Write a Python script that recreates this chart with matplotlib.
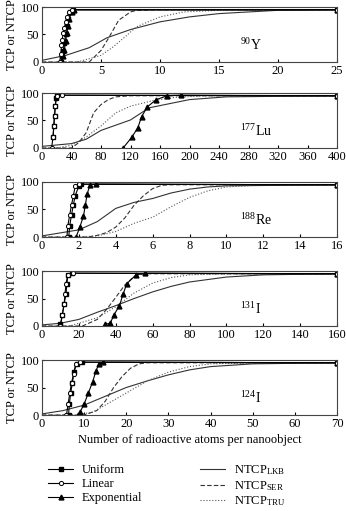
import numpy as np
import matplotlib
matplotlib.use("Agg")
import matplotlib.pyplot as plt
from matplotlib.lines import Line2D

plt.rcParams['font.family'] = ['Liberation Serif', 'DejaVu Serif']
plt.rcParams['mathtext.fontset'] = 'custom'
plt.rcParams['mathtext.rm'] = 'Liberation Serif'
plt.rcParams['mathtext.it'] = 'Liberation Serif:italic'

# ---- data ----
isotopes = [r'$^{90}\mathrm{Y}$', r'$^{177}\mathrm{Lu}$', r'$^{188}\mathrm{Re}$',
            r'$^{131}\mathrm{I}$', r'$^{124}\mathrm{I}$']
xmax = [25, 400, 16, 160, 70]
xticks = [[0, 5, 10, 15, 20, 25],
          [0, 40, 80, 120, 160, 200, 240, 280, 320, 360, 400],
          [0, 2, 4, 6, 8, 10, 12, 14, 16],
          [0, 20, 40, 60, 80, 100, 120, 140, 160],
          [0, 10, 20, 30, 40, 50, 60, 70]]

# TCP, uniform activity
uni_x = [[1.6, 1.7, 1.8, 1.9, 2.0, 2.1, 2.2, 2.4, 2.6, 25],
         [15, 16, 17, 18, 19, 20, 400],
         [1.45, 1.5, 1.6, 1.7, 1.8, 2.0, 2.1, 16],
         [10, 11, 12, 13, 13.5, 14, 16, 160],
         [6.3, 6.5, 6.8, 7.2, 7.6, 8.2, 9.5, 70]]
uni_y = [[0, 10, 20, 35, 50, 65, 78, 90, 95, 95],
         [20, 40, 58, 77, 90, 96, 95],
         [0, 20, 40, 58, 75, 93, 96, 95],
         [3, 20, 40, 58, 77, 93, 96, 95],
         [0, 20, 40, 58, 78, 93, 96, 95]]

# TCP, linear activity
lin_x = [[1.5, 1.6, 1.65, 1.7, 1.8, 1.9, 2.0, 2.1, 2.3, 2.5, 25],
         [13, 15, 16, 17, 18, 20, 27, 400],
         [1.35, 1.4, 1.5, 1.6, 1.7, 1.8, 2.0, 16],
         [10, 11, 12, 12.5, 13, 14, 17, 160],
         [5.8, 6.2, 6.6, 7.0, 7.5, 8.0, 9.0, 70]]
lin_y = [[0, 15, 30, 40, 52, 62, 72, 82, 90, 95, 95],
         [0, 20, 40, 58, 77, 95, 96, 95],
         [0, 20, 40, 58, 75, 92, 96, 95],
         [0, 20, 40, 58, 77, 92, 96, 95],
         [0, 20, 40, 58, 75, 93, 96, 95]]

# TCP, exponential activity
exp_x = [[1.7, 1.8, 1.9, 2.0, 2.1, 2.2, 2.3, 2.5, 2.7, 25],
         [110, 122, 130, 135, 143, 155, 170, 188, 400],
         [1.85, 2.05, 2.25, 2.35, 2.45, 2.6, 2.95, 16],
         [34, 37, 39, 42, 44, 46, 51, 56, 160],
         [8.5, 9.0, 10, 11, 12, 12.8, 13.5, 14.5, 70]]
exp_y = [[0, 10, 22, 38, 52, 65, 78, 90, 95, 95],
         [0, 20, 37, 57, 75, 88, 95, 96, 95],
         [0, 18, 38, 58, 78, 95, 96, 95],
         [3, 5, 20, 37, 58, 77, 93, 96, 95],
         [0, 5, 20, 40, 60, 80, 93, 96, 95]]

# NTCP models
lkb_x = [[0, 2, 4, 5.5, 7.5, 10, 12.5, 15, 20, 25],
         [0, 40, 60, 80, 120, 145, 200, 250, 400],
         [0, 2, 3, 4, 5, 6, 7, 8, 9, 10, 16],
         [0, 10, 20, 30, 40, 50, 60, 70, 80, 100, 120, 160],
         [0, 5, 10, 15, 20, 25, 30, 35, 40, 50, 70]]
lkb_y = [[3, 12, 26, 44, 59, 73, 82, 88, 94, 95],
         [3, 8, 16, 32, 51, 73, 88, 93, 95],
         [2, 13, 28, 52, 63, 70, 80, 87, 91, 93, 95],
         [2, 5, 12, 25, 37, 50, 62, 72, 80, 89, 93, 95],
         [2, 8, 18, 34, 50, 62, 73, 82, 88, 93, 95]]

ser_x = [[0, 4, 5, 5.6, 6.5, 7.5, 8, 10, 25],
         [0, 40, 50, 60, 70, 80, 90, 100, 120, 400],
         [0, 2.5, 3, 3.5, 4, 4.5, 5, 5.5, 6, 6.5, 7, 16],
         [0, 22, 30, 35, 40, 45, 50, 55, 160],
         [0, 10, 13, 15, 17, 19, 21, 23, 25, 70]]
ser_y = [[0, 0, 21, 42, 76, 91, 94, 95, 95],
         [0, 0, 10, 28, 64, 79, 88, 93, 95, 95],
         [0, 0, 3, 8, 18, 35, 58, 75, 88, 94, 95, 95],
         [0, 0, 12, 30, 52, 75, 90, 95, 95],
         [0, 0, 8, 25, 50, 70, 85, 93, 95, 95]]

tru_x = [[0, 3, 5, 6, 7, 8, 10, 12, 15, 25],
         [0, 20, 40, 60, 80, 100, 120, 150, 180, 220, 400],
         [0, 2, 3, 4, 5, 6, 7, 8, 9, 10, 12, 16],
         [0, 15, 30, 40, 50, 60, 70, 80, 100, 160],
         [0, 8, 12, 15, 20, 25, 30, 35, 40, 50, 70]]
tru_y = [[0, 0, 12, 27, 45, 64, 82, 91, 94, 95],
         [0, 0, 5, 20, 40, 64, 76, 86, 92, 95, 95],
         [0, 0, 2, 10, 25, 36, 55, 72, 84, 91, 95, 95],
         [0, 0, 15, 35, 60, 78, 88, 93, 95, 95],
         [0, 0, 5, 18, 40, 62, 78, 88, 93, 95, 95]]

W, H = 346, 511
fig = plt.figure(figsize=(W / 100, H / 100), dpi=100)

tops = [7, 93, 182, 271, 360]
ph = 55
left, right = 42, 337

lw = 0.8
for i in range(5):
    ax = fig.add_axes([left / W, 1 - (tops[i] + ph) / H, (right - left) / W, ph / H])
    ax.plot(lkb_x[i], lkb_y[i], '-', color='#333333', lw=lw)
    ax.plot(ser_x[i], ser_y[i], '--', color='#333333', lw=lw, dashes=(4, 2))
    ax.plot(tru_x[i], tru_y[i], ':', color='#555555', lw=lw)
    ax.plot(exp_x[i], exp_y[i], '-^', color='black', lw=lw, ms=3.5, mfc='black')
    ax.plot(uni_x[i], uni_y[i], '-s', color='black', lw=lw, ms=3, mfc='black')
    ax.plot(lin_x[i], lin_y[i], '-o', color='black', lw=lw, ms=3, mfc='white', mew=0.7)
    ax.set_xlim(0, xmax[i])
    ax.set_ylim(0, 100)
    ax.set_xticks(xticks[i])
    ax.set_yticks([0, 50, 100])
    ax.tick_params(labelsize=9, direction='in', length=2, pad=2)
    for s in ax.spines.values():
        s.set_color('#444444')
        s.set_linewidth(0.8)
    ax.set_ylabel('TCP or NTCP', fontsize=9, labelpad=2)
    ax.text(0.67, 0.22, isotopes[i], transform=ax.transAxes, fontsize=10)
    if i == 4:
        ax.set_xlabel('Number of radioactive atoms per nanoobject', fontsize=9, labelpad=3)

handles = [
    Line2D([], [], color='black', lw=lw, marker='s', ms=3, mfc='black'),
    Line2D([], [], color='black', lw=lw, marker='o', ms=3, mfc='white', mew=0.7),
    Line2D([], [], color='black', lw=lw, marker='^', ms=3.5, mfc='black'),
    Line2D([], [], color='#333333', lw=lw, ls='-'),
    Line2D([], [], color='#333333', lw=lw, ls='--', dashes=(4, 2)),
    Line2D([], [], color='#555555', lw=lw, ls=':'),
]
labels = ['Uniform', 'Linear', 'Exponential',
          r'NTCP$_{\mathrm{LKB}}$', r'NTCP$_{\mathrm{SER}}$', r'NTCP$_{\mathrm{TRU}}$']
fig.legend(handles, labels, ncol=2, frameon=False, fontsize=9,
           loc='upper left', bbox_to_anchor=(37 / W, 1 - 452 / H),
           handlelength=2.0, columnspacing=4.6, labelspacing=0.15, handletextpad=0.7)

fig.savefig('out.png', dpi=100)
